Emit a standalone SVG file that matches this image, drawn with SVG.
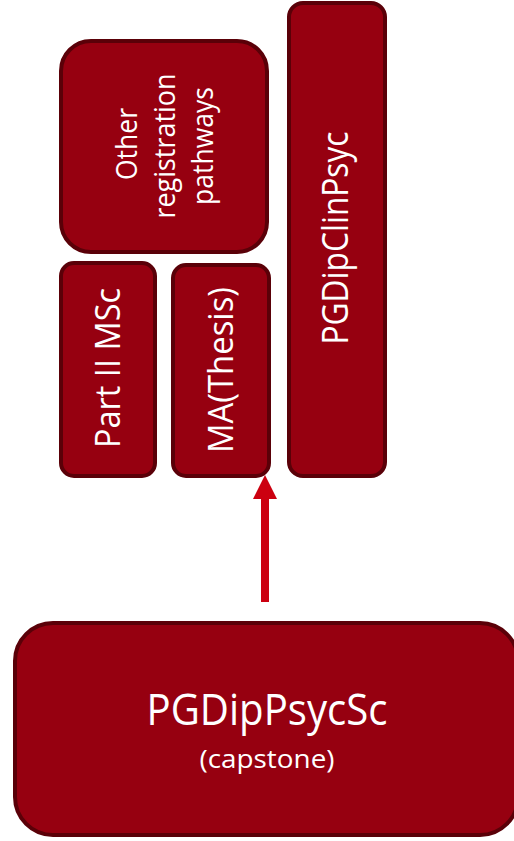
<svg xmlns="http://www.w3.org/2000/svg" width="514" height="841" viewBox="0 0 514 841">
<style>
.box{fill:#960010;stroke:#5a0008;stroke-width:4}
.t{fill:#ffffff;font-family:"Open Sans","Noto Sans",sans-serif;text-anchor:middle}
</style>
<rect width="514" height="841" fill="#ffffff"/>
<g id="connectors">
<line x1="265" y1="602" x2="265" y2="499" stroke="#cc0010" stroke-width="8"/>
<path d="M253,499 L265,475 L277,499 Z" fill="#cc0010"/>
</g>
<g id="other">
<rect class="box" x="61" y="41" width="206" height="211" rx="30"/>
<text class="t" font-size="30" transform="translate(137,144) rotate(-90)" textLength="72" lengthAdjust="spacingAndGlyphs">Other</text>
<text class="t" font-size="30" transform="translate(175,146) rotate(-90)" textLength="145" lengthAdjust="spacingAndGlyphs">registration</text>
<text class="t" font-size="30" transform="translate(213,146) rotate(-90)" textLength="118" lengthAdjust="spacingAndGlyphs">pathways</text>
</g>
<g id="partii">
<rect class="box" x="61" y="263" width="94" height="213" rx="13"/>
<text class="t" font-size="35" transform="translate(120,368) rotate(-90)" textLength="160" lengthAdjust="spacingAndGlyphs">Part II MSc</text>
</g>
<g id="ma">
<rect class="box" x="173" y="265" width="96" height="211" rx="13"/>
<text class="t" font-size="35" transform="translate(233,370) rotate(-90)" textLength="166" lengthAdjust="spacingAndGlyphs">MA(Thesis)</text>
</g>
<g id="pgdipclin">
<rect class="box" x="289" y="3" width="96" height="473" rx="14"/>
<text class="t" font-size="37" transform="translate(348,238) rotate(-90)" textLength="213" lengthAdjust="spacingAndGlyphs">PGDipClinPsyc</text>
</g>
<g id="pgdippsycsc">
<rect class="box" x="15" y="623" width="503" height="212" rx="38"/>
<text class="t" font-size="43" x="267" y="725" textLength="241" lengthAdjust="spacingAndGlyphs">PGDipPsycSc</text>
<text class="t" font-size="25" x="267" y="768" textLength="135" lengthAdjust="spacingAndGlyphs">(capstone)</text>
</g>
</svg>
